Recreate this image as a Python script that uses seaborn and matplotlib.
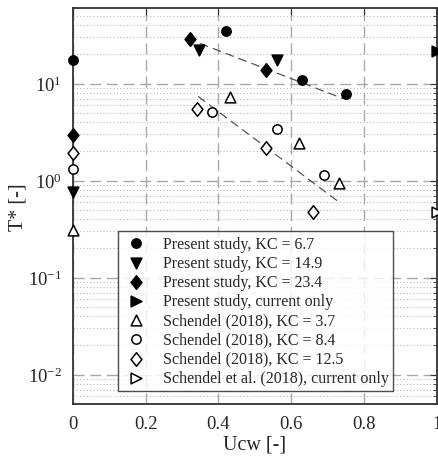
import matplotlib
matplotlib.use("Agg")
import matplotlib.pyplot as plt
import seaborn as sns
import pandas as pd
import numpy as np
from matplotlib.ticker import LogLocator, NullFormatter, FixedLocator
from matplotlib.path import Path

sns.set_theme(style="white")
plt.rcParams['font.family'] = ['Liberation Serif', 'DejaVu Serif']
plt.rcParams['mathtext.fontset'] = 'custom'
plt.rcParams['mathtext.rm'] = 'Liberation Serif'
plt.rcParams['mathtext.it'] = 'Liberation Serif:italic'

# Data
ps_kc67_x = [0.0, 0.42, 0.63, 0.75]
ps_kc67_y = [17.6, 35.0, 11.0, 7.8]
ps_kc149_x = [0.0, 0.346, 0.561]
ps_kc149_y = [0.77, 22.3, 17.6]
ps_kc234_x = [0.0, 0.321, 0.532]
ps_kc234_y = [2.95, 29.0, 13.7]
ps_cur_x = [1.0]
ps_cur_y = [21.8]
sc_kc37_x = [0.0, 0.431, 0.621, 0.732]
sc_kc37_y = [0.31, 7.3, 2.43, 0.95]
sc_kc84_x = [0.0, 0.381, 0.561, 0.690]
sc_kc84_y = [1.31, 5.16, 3.43, 1.13]
sc_kc125_x = [0.0, 0.34, 0.532, 0.660]
sc_kc125_y = [1.94, 5.5, 2.18, 0.48]
sc_cur_x = [1.0]
sc_cur_y = [0.48]
trend1_x = [0.349, 0.743]
trend1_y = [26.0, 7.0]
trend2_x = [0.344, 0.729]
trend2_y = [7.4, 0.61]

diamond = Path([(0, 1), (0.8, 0), (0, -1), (-0.8, 0), (0, 1)],
               [Path.MOVETO, Path.LINETO, Path.LINETO, Path.LINETO, Path.CLOSEPOLY])

series = [
    ("Present study, KC = 6.7", ps_kc67_x, ps_kc67_y, 'o', True, 45),
    ("Present study, KC = 14.9", ps_kc149_x, ps_kc149_y, 'v', True, 60),
    ("Present study, KC = 23.4", ps_kc234_x, ps_kc234_y, diamond, True, 95),
    ("Present study, current only", ps_cur_x, ps_cur_y, '>', True, 60),
    ("Schendel (2018), KC = 3.7", sc_kc37_x, sc_kc37_y, '^', False, 60),
    ("Schendel (2018), KC = 8.4", sc_kc84_x, sc_kc84_y, 'o', False, 45),
    ("Schendel (2018), KC = 12.5", sc_kc125_x, sc_kc125_y, diamond, False, 95),
    ("Schendel et al. (2018), current only", sc_cur_x, sc_cur_y, '>', False, 60),
]

fig = plt.figure(figsize=(4.39, 4.60), dpi=100)
ax = fig.add_axes([0.166, 0.120, 0.829, 0.860])

for (x, y) in [(trend1_x, trend1_y), (trend2_x, trend2_y)]:
    sns.lineplot(x=x, y=y, ax=ax, color='#555555', lw=0.9,
                 linestyle=(0, (7, 4)), legend=False, zorder=2)

for label, x, y, m, filled, s in series:
    df = pd.DataFrame({"x": x, "y": y})
    sns.scatterplot(data=df, x="x", y="y", ax=ax, marker=m, s=s,
                    facecolor='black' if filled else 'white',
                    edgecolor='black', linewidth=1.1, label=label,
                    zorder=5, clip_on=False)

ax.set_yscale('log')
ax.set_xlim(0, 1)
ax.set_ylim(0.005, 60)
ax.xaxis.set_major_locator(FixedLocator([0, 0.2, 0.4, 0.6, 0.8, 1.0]))
ax.set_xticklabels(['0', '0.2', '0.4', '0.6', '0.8', '1'])
ax.yaxis.set_major_locator(LogLocator(base=10, numticks=10))
ax.yaxis.set_minor_locator(LogLocator(base=10, subs=np.arange(2, 10), numticks=20))
ax.yaxis.set_minor_formatter(NullFormatter())

ax.grid(True, which='major', color='#a8a8a8', linestyle=(0, (8, 4)), lw=1.0)
ax.grid(True, which='minor', axis='y', color='#b8b8b8', linestyle=(0, (1, 2)), lw=0.8)
ax.set_axisbelow(True)

ax.tick_params(which='both', direction='in', top=True, right=True,
               color='#333333', labelsize=13.5, pad=8)
ax.tick_params(which='major', length=5, width=0.8)
ax.tick_params(which='minor', length=3, width=0.6)
for sp in ax.spines.values():
    sp.set_color('#333333')
    sp.set_linewidth(1.3)

ax.set_xlabel("Ucw [-]", fontsize=14.5, labelpad=2)
ax.set_ylabel("T* [-]", fontsize=14.5, labelpad=0)

leg = ax.legend(loc='lower left', bbox_to_anchor=(0.124, 0.033), fontsize=11.5,
                frameon=True, fancybox=False, edgecolor='#222222',
                borderpad=0.3, labelspacing=0.2, handletextpad=0.9,
                borderaxespad=0, handlelength=1.6)
leg.get_frame().set_linewidth(1.0)
leg.set_zorder(10)

fig.savefig("out.png", dpi=100)
